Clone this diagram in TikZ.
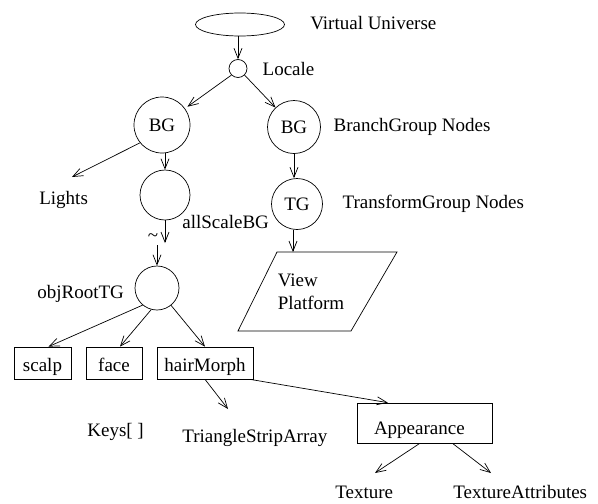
\documentclass[tikz,border=0pt]{standalone}
\usepackage{fontspec}
\setmainfont{Liberation Serif}
\usetikzlibrary{arrows.meta, positioning, shapes.geometric}

\tikzset{
  grp/.style={draw, circle, inner sep=0pt},
  leaf/.style={draw, rectangle, inner xsep=2pt, inner ysep=4pt, text height=20pt, text depth=4pt},
  lbl/.style={anchor=base west, inner sep=0pt},
  side/.style={inner sep=0pt},
}

\begin{document}
\begin{tikzpicture}[x=1pt, y=-1pt, >={Straight Barb[length=10pt, width=8pt]}, line width=0.7pt, font=\fontsize{19}{23}\selectfont]
        \useasboundingbox (0,0) rectangle (598,504);

        % Universe and locale
        \node[draw, ellipse, minimum width=89pt, minimum height=23pt] (vu) at (240,24.5) {};
        \node[lbl] (vulbl) at (310,29) {Virtual Universe};
        \node[grp, minimum size=18pt] (loc) at (238,68.5) {};
        \node[side, right=15pt of loc] (loclbl) {Locale};
        \draw[->] (loc |- vu.south) -- (loc.north);

        % Branch groups
        \node[grp, minimum size=56pt] (bgl) at (162,125) {BG};
        \node[grp, minimum size=53pt] (bgr) at (294,127) {BG};
        \node[side, right=12.5pt of bgr] (bglbl) {BranchGroup Nodes};
        \draw[->, shorten >=3pt] (loc.225) -- (bgl);
        \draw[->] (loc.-45) -- (bgr);

        % Lights
        \node[lbl] (lights) at (39,204) {Lights};
        \coordinate (lighttip) at (72,177);
        \draw[->] (bgl.219) -- (lighttip);

        % allScaleBG with a gap below
        \node[grp, minimum size=50pt] (asbg) at (165,195) {};
        \node[lbl] (asbglbl) at (182,228) {allScaleBG};
        \draw[->] (bgl.south -| asbg) -- (asbg.north);
        \coordinate (gaptop) at (165,243);
        \coordinate (gapbot) at (157,245);
        \node (gap) at (153,238) {\textasciitilde};
        \draw[->] (asbg.south) -- (gaptop);

        % objRootTG
        \node[grp, minimum size=44pt] (ort) at (157,288) {};
        \node[lbl] (ortlbl) at (37,298) {objRootTG};
        \draw[->] (gapbot) -- (gapbot |- ort.north);

        % Shapes below objRootTG
        \node[leaf, minimum width=57pt] (scalp) at (42.5,363) {scalp};
        \node[leaf, minimum width=56pt] (face) at (114,363) {face};
        \node[leaf, minimum width=96pt] (hm) at (205,363) {hairMorph};
        \draw[->] (ort.230) -- (scalp.70);
        \draw[->] (ort.255) -- (face.70);
        \draw[->] (ort.-51) -- (hm.north);

        % Keys and geometry
        \node[lbl] (keys) at (87,436) {Keys[ ]};
        \node[lbl] (tsa) at (182,442) {TriangleStripArray};
        \coordinate (tsatip) at (228,409);
        \draw[->] (hm.south) -- (tsatip);

        % Appearance
        \node[draw, rectangle, text width=101pt, align=left, inner xsep=17pt, inner ysep=4pt,
              text height=27pt, text depth=5pt] (app) at (424.5,423) {Appearance};
        \draw[->] (hm.-20) -- (app.151);
        \node[lbl] (tex) at (335,498) {Texture};
        \node[lbl] (texattr) at (453,498) {TextureAttributes};
        \coordinate (textip) at (375,473);
        \coordinate (attrtip) at (491,473);
        \draw[->] (app.257) -- (textip);
        \draw[->] (app.-36) -- (attrtip);

        % Transform group and view platform
        \node[grp, minimum size=51pt] (tg) at (297,204) {TG};
        \node[side, right=19.5pt of tg] (tglbl) {TransformGroup Nodes};
        \draw[->] (bgr.south -| 294,0) -- (294,0 |- tg.north);
        \draw (277,252) -- (397,252) -- (351,331) -- (238,331) -- cycle;
        \node[align=left, inner sep=0pt] (vp) at (311,292) {View\\Platform};
        \coordinate (vptop) at (293,252);
        \draw[->] (293,0 |- tg.south) -- (vptop);
    \end{tikzpicture}
\end{document}
